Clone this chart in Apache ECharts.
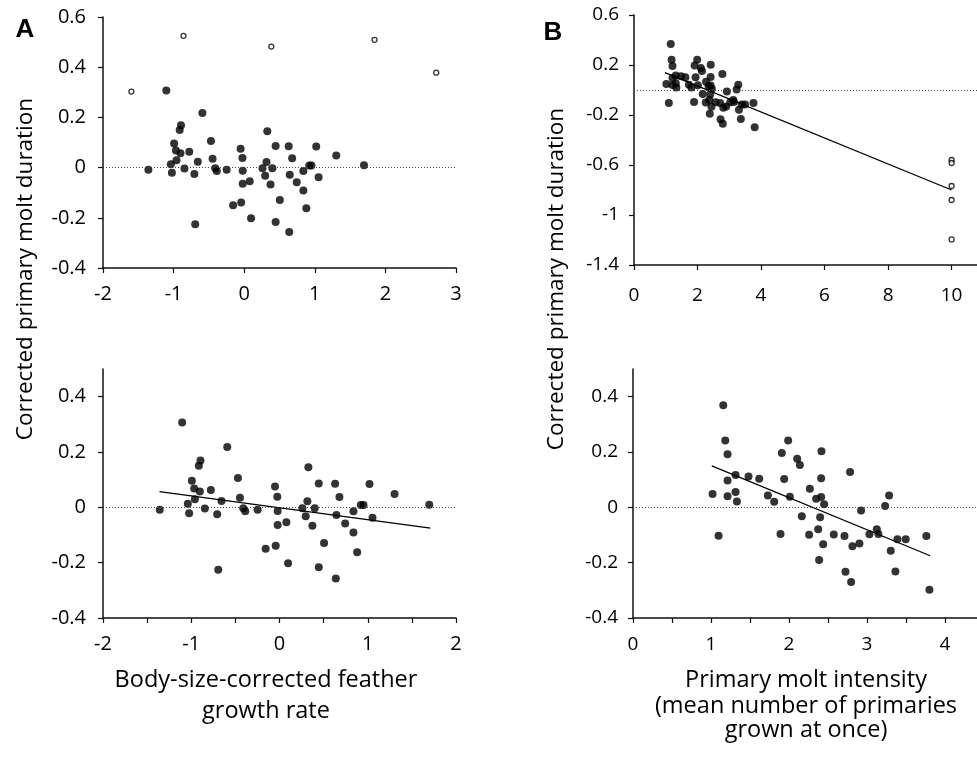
<!DOCTYPE html>
<html>
<head>
<meta charset="utf-8">
<script src="https://cdn.jsdelivr.net/npm/echarts@6/dist/echarts.min.js"></script>
<style>
  html, body { margin: 0; padding: 0; background: #fff; }
  #chart { width: 977px; height: 758px; }
</style>
</head>
<body>
<div id="chart"></div>
<script>
// panel A: body-size-corrected feather growth rate vs corrected molt duration
var growthRate = [-1.357, -1.103, -1.039, -1.024, -0.993, -0.967, -0.959, -0.914, -0.895, -0.903,
    -0.846, -0.778, -0.706, -0.694, -0.657, -0.592, -0.471, -0.448, -0.411, -0.388,
    -0.248, -0.157, -0.051, -0.043, -0.025, -0.021, -0.021, 0.078, 0.097, 0.259,
    0.297, 0.316, 0.327, 0.373, 0.399, 0.445, 0.445, 0.505, 0.630, 0.638,
    0.645, 0.679, 0.744, 0.838, 0.838, 0.880, 0.921, 0.952, 1.020, 1.054,
    1.304, 1.697];
var durationA = [-0.009, 0.307, 0.013, -0.021, 0.096, 0.068, 0.029, 0.150, 0.169, 0.057,
    -0.004, 0.063, -0.025, -0.226, 0.023, 0.218, 0.106, 0.035, -0.003, -0.014,
    -0.009, -0.150, 0.075, -0.139, 0.038, -0.013, -0.064, -0.054, -0.202, -0.003,
    -0.032, 0.022, 0.145, -0.067, -0.003, 0.086, -0.217, -0.129, 0.085, -0.257,
    -0.028, 0.037, -0.058, -0.014, -0.091, -0.162, 0.008, 0.008, 0.084, -0.038,
    0.048, 0.009];
var outlierGrowth = [-1.598, -0.86, 0.384, 1.846, 2.72];
var outlierDurA = [0.303, 0.525, 0.482, 0.509, 0.378];
var fitGrowthX = [-1.36, 1.71];
var fitGrowthY = [0.057, -0.075];

// panel B: primary molt intensity vs corrected molt duration
var intensity = [1.020, 1.097, 1.157, 1.183, 1.212, 1.212, 1.212, 1.315, 1.315, 1.332,
    1.481, 1.618, 1.729, 1.810, 1.891, 1.908, 1.938, 1.989, 2.011, 2.105,
    2.139, 2.164, 2.258, 2.267, 2.348, 2.374, 2.386, 2.399, 2.412, 2.412,
    2.416, 2.438, 2.450, 2.574, 2.711, 2.724, 2.783, 2.796, 2.813, 2.903,
    2.924, 3.031, 3.125, 3.146, 3.232, 3.283, 3.304, 3.364, 3.390, 3.496,
    3.761, 3.800];
var durationB = [0.048, -0.103, 0.369, 0.242, 0.192, 0.097, 0.040, 0.117, 0.055, 0.021,
    0.111, 0.103, 0.043, 0.020, -0.096, 0.196, 0.102, 0.242, 0.038, 0.176,
    0.153, -0.032, -0.099, 0.067, 0.031, -0.079, -0.190, -0.036, 0.037, 0.105,
    0.203, -0.133, 0.011, -0.098, -0.104, -0.233, 0.128, -0.270, -0.141, -0.131,
    -0.011, -0.097, -0.079, -0.096, 0.005, 0.043, -0.157, -0.232, -0.115, -0.115,
    -0.104, -0.298];
var outlierIntensity = [10, 10, 10, 10, 10];
var outlierDurB = [-0.56, -0.584, -0.768, -0.88, -1.195];
var fitAllX = [0.974, 10];
var fitAllY = [0.139, -0.80];
var fitIntX = [1.01, 3.81];
var fitIntY = [0.150, -0.175];

// ticks
var ticksTopA = [-2, -1, 0, 1, 2, 3];
var ticksBottomA = [-2, -1.5, -1, -0.5, 0, 0.5, 1, 1.5, 2];
var labelsBottomA = [-2, -1, 0, 1, 2];
var ticksTopB = [0, 2, 4, 6, 8, 10];
var ticksBottomB = [0, 0.5, 1, 1.5, 2, 2.5, 3, 3.5, 4];
var labelsBottomB = [0, 1, 2, 3, 4];
var yTicksTopA = [-0.4, -0.2, 0, 0.2, 0.4, 0.6];
var yTicksTopB = [-1.4, -1, -0.6, -0.2, 0.2, 0.6];
var yTicksBottom = [-0.4, -0.2, 0, 0.2, 0.4];

function pairs(xs, ys) {
    return xs.map(function (x, i) { return [x, ys[i]]; });
}

var FONT = 'Open Sans';
var axisLine = { onZero: false, lineStyle: { color: '#111', width: 1.5 } };
var axisTick = { length: 5, lineStyle: { color: '#111', width: 1.2 } };

function labelStyle(size, margin) {
    return { color: '#000', fontFamily: FONT, fontSize: size, margin: margin };
}

function xAxisOf(grid, min, max, ticks, labels, size, margin) {
    return {
        type: 'value', gridIndex: grid, min: min, max: max,
        axisLine: axisLine,
        axisTick: Object.assign({ customValues: ticks }, axisTick),
        axisLabel: Object.assign({ customValues: labels }, labelStyle(size, margin)),
        splitLine: { show: false }
    };
}

function yAxisOf(grid, min, max, ticks, size, margin) {
    return {
        type: 'value', gridIndex: grid, min: min, max: max,
        axisLine: axisLine,
        axisTick: Object.assign({ customValues: ticks }, axisTick),
        axisLabel: Object.assign({ customValues: ticks }, labelStyle(size, margin)),
        splitLine: { show: false }
    };
}

var zeroLine = {
    silent: true, symbol: 'none', animation: false,
    label: { show: false },
    lineStyle: { color: '#444', width: 1, type: [1, 2] },
    data: [{ yAxis: 0 }]
};

function filled(ax, xs, ys) {
    return {
        type: 'scatter', xAxisIndex: ax, yAxisIndex: ax, symbolSize: 8,
        itemStyle: { color: '#000' }, data: pairs(xs, ys), markLine: zeroLine, z: 3
    };
}

function hollow(ax, xs, ys) {
    return {
        type: 'scatter', xAxisIndex: ax, yAxisIndex: ax, symbolSize: 5,
        itemStyle: { color: '#fff', borderColor: '#000', borderWidth: 1.3 },
        data: pairs(xs, ys), z: 4
    };
}

function fit(ax, xs, ys) {
    return {
        type: 'line', xAxisIndex: ax, yAxisIndex: ax, showSymbol: false, symbol: 'none',
        lineStyle: { color: '#000', width: 1.3 }, data: pairs(xs, ys), z: 2
    };
}

function titleText(x, y, text, size, rotate) {
    return {
        type: 'text', x: x, y: y, rotation: rotate ? Math.PI / 2 : 0,
        style: {
            text: text, fill: '#000', fontFamily: FONT, fontSize: size,
            align: 'center', verticalAlign: 'middle'
        }
    };
}

var myChart = echarts.init(document.getElementById('chart'));

var option = {
    animation: false,
    backgroundColor: '#fff',
    grid: [
        { left: 103, top: 17, width: 353, height: 251 },
        { left: 103, top: 369, width: 353, height: 249 },
        { left: 634, top: 15, width: 343, height: 250 },
        { left: 633, top: 369, width: 344, height: 249 }
    ],
    xAxis: [
        xAxisOf(0, -2, 3, ticksTopA, ticksTopA, 20, 16),
        xAxisOf(1, -2, 2, ticksBottomA, labelsBottomA, 20, 16),
        xAxisOf(2, 0, 10.8, ticksTopB, ticksTopB, 19, 21),
        xAxisOf(3, 0, 4.41, ticksBottomB, labelsBottomB, 19, 17)
    ],
    yAxis: [
        yAxisOf(0, -0.4, 0.6, yTicksTopA, 20, 17),
        yAxisOf(1, -0.4, 0.5, yTicksBottom, 20, 17),
        yAxisOf(2, -1.4, 0.6, yTicksTopB, 19, 15),
        yAxisOf(3, -0.4, 0.5, yTicksBottom, 19, 15)
    ],
    series: [
        filled(0, growthRate, durationA),
        hollow(0, outlierGrowth, outlierDurA),
        filled(1, growthRate, durationA),
        fit(1, fitGrowthX, fitGrowthY),
        filled(2, intensity, durationB),
        hollow(2, outlierIntensity, outlierDurB),
        fit(2, fitAllX, fitAllY),
        filled(3, intensity, durationB),
        fit(3, fitIntX, fitIntY)
    ],
    graphic: [
        {
            type: 'text', x: 25, y: 30,
            style: { text: 'A', fill: '#000', fontFamily: 'Liberation Sans', fontWeight: 'bold', fontSize: 26, align: 'center', verticalAlign: 'middle' }
        },
        {
            type: 'text', x: 553, y: 33,
            style: { text: 'B', fill: '#000', fontFamily: 'Liberation Sans', fontWeight: 'bold', fontSize: 26, align: 'center', verticalAlign: 'middle' }
        },
        titleText(26, 269, 'Corrected primary molt duration', 22.5, true),
        titleText(557, 279, 'Corrected primary molt duration', 22.5, true),
        titleText(266, 680, 'Body-size-corrected feather', 23.5, false),
        titleText(266, 711, 'growth rate', 23.5, false),
        titleText(806, 680, 'Primary molt intensity', 23.5, false),
        titleText(806, 706, '(mean number of primaries', 23.5, false),
        titleText(806, 730, 'grown at once)', 23.5, false)
    ]
};

myChart.setOption(option);
</script>
</body>
</html>
